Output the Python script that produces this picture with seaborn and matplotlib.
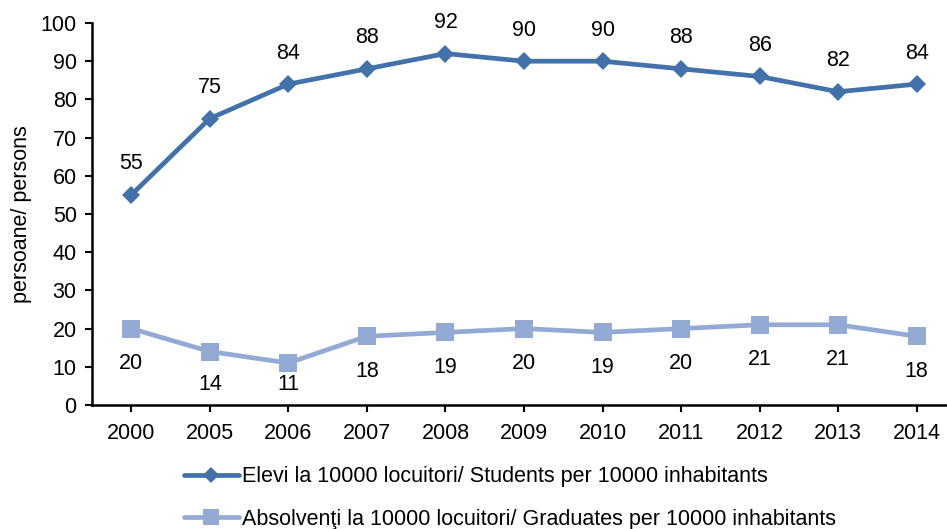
"""
Elevi si absolventi la 10000 locuitori, 2000-2014
"""

import matplotlib
matplotlib.use('Agg')
import matplotlib.pyplot as plt
import seaborn as sns
import pandas as pd


# Data
years = ['2000', '2005', '2006', '2007', '2008', '2009', '2010',
         '2011', '2012', '2013', '2014']
students = [55, 75, 84, 88, 92, 90, 90, 88, 86, 82, 84]
graduates = [20, 14, 11, 18, 19, 20, 19, 20, 21, 21, 18]

students_label = 'Elevi la 10000 locuitori/ Students per 10000 inhabitants'
graduates_label = 'Absolvenţi la 10000 locuitori/ Graduates per 10000 inhabitants'

dark_blue = '#4371AA'
light_blue = '#93AAD4'
fs = 15.5


def main():

    sns.set_style('white')
    plt.rcParams['font.family'] = ['Liberation Sans', 'DejaVu Sans']
    plt.rcParams['text.color'] = 'black'
    plt.rcParams['xtick.color'] = 'black'
    plt.rcParams['ytick.color'] = 'black'
    plt.rcParams['axes.labelcolor'] = 'black'

    # Build a long table for seaborn
    df = pd.DataFrame({
        'Year': years * 2,
        'Value': students + graduates,
        'Series': [students_label] * len(years) + [graduates_label] * len(years),
    })

    fig = plt.figure(figsize=(9.47, 5.29), dpi=100)
    ax = fig.add_axes([92 / 947, 1 - 405 / 529, 864 / 947, 382 / 529])

    sns.lineplot(data=df, x='Year', y='Value', hue='Series', style='Series',
                 markers={students_label: 'D', graduates_label: 's'},
                 dashes=False, palette=[dark_blue, light_blue],
                 linewidth=3.4, markersize=11, markeredgewidth=0,
                 sort=False, legend=False, ax=ax)
    # squares a bit bigger than the diamonds
    ax.lines[0].set_markersize(9.5)
    ax.lines[1].set_markersize(12.5)

    # Data labels (the lower ones are kept inside the plot area, like Excel)
    for i, v in enumerate(students):
        ax.text(i, v + 8.1, f'{v}', ha='center', va='center', fontsize=fs)
    for i, v in enumerate(graduates):
        ax.text(i, max(v - 9.2, 5.3), f'{v}', ha='center', va='center',
                fontsize=fs)

    # Axes
    ax.set_xlim(-0.5, len(years) - 0.5)
    ax.set_ylim(0, 100)
    ax.set_yticks(range(0, 101, 10))
    ax.set_xlabel('')
    ax.set_ylabel('persoane/ persons', fontsize=fs, labelpad=6)
    ax.tick_params(axis='both', labelsize=fs, length=5, width=1.5,
                   direction='out', color='black', bottom=True, left=True)
    ax.tick_params(axis='x', pad=8)
    ax.tick_params(axis='y', pad=6)
    for side in ['top', 'right']:
        ax.spines[side].set_visible(False)
    for side in ['left', 'bottom']:
        ax.spines[side].set_color('black')
        ax.spines[side].set_linewidth(1.8)

    # Legend below the plot
    handles = [
        plt.Line2D([], [], color=dark_blue, lw=3.4, marker='D', markersize=8,
                   markeredgewidth=0),
        plt.Line2D([], [], color=light_blue, lw=3.4, marker='s', markersize=11,
                   markeredgewidth=0),
    ]
    fig.legend(handles, [students_label, graduates_label],
               loc='center', bbox_to_anchor=(510 / 947, 1 - 498 / 529),
               ncol=1, frameon=False, fontsize=fs, handlelength=2.55,
               handletextpad=0.15, labelspacing=1.0, borderpad=0)

    fig.savefig('out.png', dpi=100, facecolor='white')
    plt.close(fig)


if __name__ == '__main__':
    main()
